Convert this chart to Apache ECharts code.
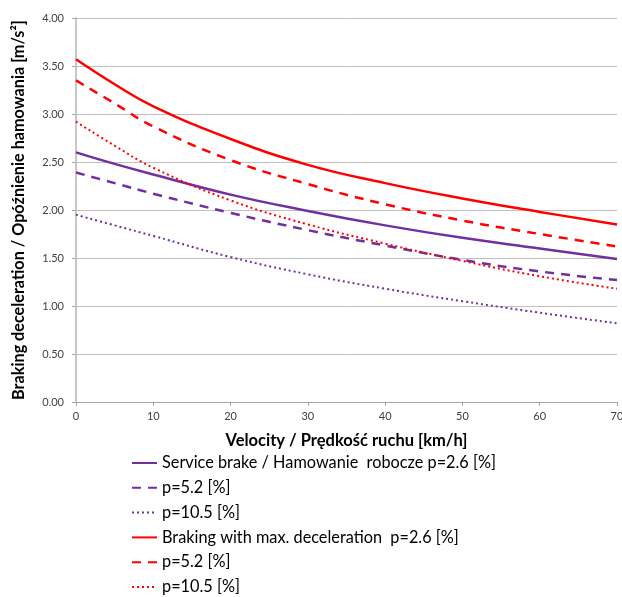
<!DOCTYPE html>
<html>
<head>
<meta charset="utf-8">
<script src="https://cdn.jsdelivr.net/npm/echarts@6/dist/echarts.min.js"></script>
<style>
html,body{margin:0;padding:0;background:#fff;}
#chart{width:622px;height:597px;}
</style>
</head>
<body>
<div id="chart"></div>
<script>
// Velocity [km/h]
var velocity = [0, 5, 10, 20, 30, 40, 50, 60, 70];
// Series values [m/s^2]
var serviceP26 = [2.60, 2.48, 2.37, 2.16, 1.99, 1.84, 1.71, 1.60, 1.49];
var serviceP52 = [2.39, 2.28, 2.17, 1.97, 1.79, 1.63, 1.48, 1.36, 1.27];
var serviceP105 = [1.95, 1.84, 1.73, 1.51, 1.33, 1.18, 1.05, 0.93, 0.82];
var maxP26 = [3.57, 3.31, 3.08, 2.74, 2.47, 2.28, 2.12, 1.98, 1.85];
var maxP52 = [3.35, 3.11, 2.87, 2.52, 2.27, 2.06, 1.89, 1.75, 1.62];
var maxP105 = [2.92, 2.67, 2.44, 2.10, 1.85, 1.65, 1.47, 1.31, 1.18];
var seriesNames = [
  'Service brake / Hamowanie  robocze p=2.6 [%]',
  'p=5.2 [%] ',
  'p=10.5 [%] ',
  'Braking with max. deceleration  p=2.6 [%]',
  'p=5.2 [%]',
  'p=10.5 [%]'
];
var xAxisTitle = 'Velocity / Prędkość ruchu [km/h]';
var yAxisTitle = 'Braking deceleration / Opóźnienie hamowania [m/s²]';

var PURPLE = '#7030A0', RED = '#FF0000';
function pairs(ys){ return velocity.map(function(v,i){ return [v, ys[i]]; }); }
function mk(name, ys, color, type, width){
  return {
    name: name, type: 'line', data: pairs(ys), smooth: 0.45,
    symbol: 'none', showSymbol: false,
    lineStyle: {color: color, width: width, type: type, cap: 'butt'},
    itemStyle: {color: color},
    emphasis: {disabled: true}
  };
}
var FONT = 'Lato';
var chart = echarts.init(document.getElementById('chart'), null, {renderer: 'canvas'});
chart.setOption({
  animation: false,
  backgroundColor: '#fff',
  textStyle: {fontFamily: FONT},
  grid: {left: 76, right: 5, top: 18, bottom: 195, containLabel: false, outerBoundsMode: 'none'},
  xAxis: {
    type: 'value', min: 0, max: 70, interval: 10,
    name: xAxisTitle, nameLocation: 'middle', nameGap: 30,
    nameTextStyle: {fontFamily: FONT, fontWeight: 'bold', fontSize: 16.5, color: '#000'},
    axisLine: {show: true, lineStyle: {color: '#a6a6a6', width: 1}},
    axisTick: {show: true, length: 4, lineStyle: {color: '#a6a6a6'}},
    axisLabel: {fontFamily: FONT, fontSize: 11, color: '#404040', margin: 9},
    splitLine: {show: false}
  },
  yAxis: {
    type: 'value', min: 0, max: 4, interval: 0.5,
    name: yAxisTitle, nameLocation: 'middle', nameGap: 49, nameRotate: 90,
    nameTextStyle: {fontFamily: FONT, fontWeight: 'bold', fontSize: 16.2, color: '#000'},
    axisLine: {show: true, lineStyle: {color: '#c8c8c8', width: 2}},
    axisTick: {show: true, length: 4, lineStyle: {color: '#a6a6a6'}},
    axisLabel: {fontFamily: FONT, fontSize: 11, color: '#404040', margin: 12,
      formatter: function(v){ return v.toFixed(2); }},
    splitLine: {show: true, lineStyle: {color: '#bfbfbf', width: 1}}
  },
  legend: {
    orient: 'vertical', left: 131, top: 454, padding: 0, height: 200,
    itemWidth: 25, itemHeight: 18, itemGap: 6.8,
    itemStyle: {opacity: 0, borderWidth: 0},
    textStyle: {fontFamily: FONT, fontSize: 16.3, color: '#000', lineHeight: 18},
    data: seriesNames
  },
  series: [
    mk(seriesNames[0], serviceP26, PURPLE, 'solid', 2.5),
    mk(seriesNames[1], serviceP52, PURPLE, [9, 7], 2.5),
    mk(seriesNames[2], serviceP105, PURPLE, [2, 3], 2),
    mk(seriesNames[3], maxP26, RED, 'solid', 2.5),
    mk(seriesNames[4], maxP52, RED, [9, 7], 2.5),
    mk(seriesNames[5], maxP105, RED, [2, 3], 2)
  ]
});
</script>
</body>
</html>
